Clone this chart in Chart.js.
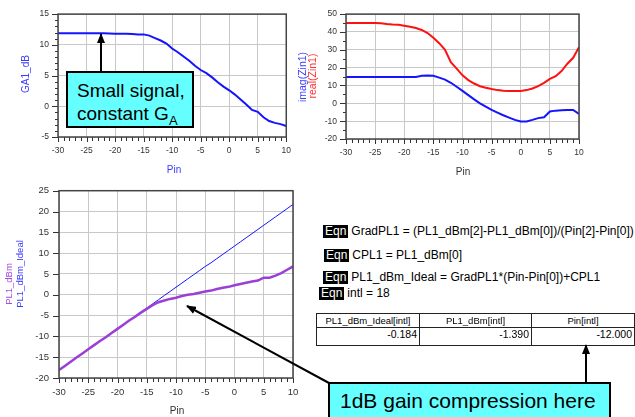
<!DOCTYPE html>
<html>
<head>
<meta charset="utf-8">
<script src="https://cdn.jsdelivr.net/npm/chart.js@4.4.1/dist/chart.umd.min.js"></script>
<style>
html, body { margin: 0; padding: 0; background: #fff; }
body { width: 635px; height: 417px; position: relative; overflow: hidden; font-family: "Liberation Sans", Arial, sans-serif; }
canvas { position: absolute; }
.t { position: absolute; white-space: nowrap; line-height: 1; }
.rot { transform: translate(-50%, -50%) rotate(-90deg); }
.ctr { transform: translate(-50%, -50%); }
.eqn { position: absolute; font-size: 12px; line-height: 13px; white-space: nowrap; color: #000; }
.eqn b { display: inline-block; background: #000; color: #fff; font-weight: normal; padding: 0 2px; margin-right: 3px; }
.note { position: absolute; background: #66ffff; border: 2px solid #000; box-sizing: border-box; color: #000; }
table { position: absolute; border-collapse: collapse; font-size: 9.5px; table-layout: fixed; }
td { border: 1px solid #222; padding: 0 2px; overflow: hidden; white-space: nowrap; }
svg { position: absolute; left: 0; top: 0; }
</style>
</head>
<body>
<canvas id="ga" width="300" height="180" style="left:0;top:0"></canvas>
<canvas id="zin" width="335" height="180" style="left:300px;top:0"></canvas>
<canvas id="pl" width="310" height="242" style="left:0;top:175px"></canvas>

<div class="t rot" style="left:26px;top:74px;font-size:10px;color:#3b3bff">GA1_dB</div>
<div class="t ctr" style="left:174px;top:170px;font-size:10px;color:#3b3bff">Pin</div>
<div class="t rot" style="left:302px;top:77px;font-size:10.5px;color:#3b3bff">imag(Zin1)</div>
<div class="t rot" style="left:312px;top:76px;font-size:10.5px;color:#ff3030">real(Zin1)</div>
<div class="t ctr" style="left:463px;top:172px;font-size:10px;color:#333">Pin</div>
<div class="t rot" style="left:9px;top:284px;font-size:9.5px;color:#a64de0">PL1_dBm</div>
<div class="t rot" style="left:20px;top:274px;font-size:9.5px;color:#3b3bff">PL1_dBm_Ideal</div>
<div class="t ctr" style="left:177px;top:411px;font-size:10px;color:#333">Pin</div>

<div class="eqn" style="left:323px;top:225px"><b>Eqn</b>GradPL1 = (PL1_dBm[2]-PL1_dBm[0])/(Pin[2]-Pin[0])</div>
<div class="eqn" style="left:324px;top:249px"><b>Eqn</b>CPL1 = PL1_dBm[0]</div>
<div class="eqn" style="left:323px;top:271px"><b>Eqn</b>PL1_dBm_Ideal = GradPL1*(Pin-Pin[0])+CPL1</div>
<div class="eqn" style="left:319px;top:287px"><b>Eqn</b>intl = 18</div>

<table style="left:316px;top:313px;width:318px">
  <colgroup><col style="width:103px"><col style="width:112px"><col style="width:103px"></colgroup>
  <tr style="height:14px"><td style="text-align:center">PL1_dBm_Ideal[intl]</td><td style="text-align:center">PL1_dBm[intl]</td><td style="text-align:center">Pin[intl]</td></tr>
  <tr style="height:18px"><td style="text-align:right;vertical-align:top;font-size:10.5px">-0.184</td><td style="text-align:right;vertical-align:top;font-size:10.5px">-1.390</td><td style="text-align:right;vertical-align:top;font-size:10.5px">-12.000</td></tr>
</table>

<div class="note" style="left:66px;top:71px;width:128px;height:57px;font-size:19px;line-height:23px;padding:6px 0 0 9px">Small signal,<br>constant G<sub style="font-size:13px;line-height:0">A</sub></div>
<div class="note" style="left:328px;top:382px;width:283px;height:50px;font-size:21px;line-height:24px;padding:5px 0 0 10px">1dB gain compression here</div>

<svg width="635" height="417" viewBox="0 0 635 417">
  <defs>
    <marker id="ah" markerWidth="10" markerHeight="8" refX="9" refY="4" orient="auto" markerUnits="userSpaceOnUse">
      <path d="M0,0 L10,4 L0,8 Z" fill="#000"/>
    </marker>
  </defs>
  <line x1="101" y1="71" x2="101" y2="34" stroke="#000" stroke-width="2" marker-end="url(#ah)"/>
  <line x1="329" y1="383" x2="187" y2="306" stroke="#000" stroke-width="2" marker-end="url(#ah)"/>
  <line x1="586" y1="382" x2="586" y2="345" stroke="#000" stroke-width="2" marker-end="url(#ah)"/>
</svg>

<script>
// swept input power (dBm)
const pin = [-30, -29, -28, -27, -26, -25, -24, -23, -22, -21, -20, -19, -18, -17, -16, -15, -14, -13, -12, -11,
  -10, -9, -8, -7, -6, -5, -4, -3, -2, -1, 0, 1, 2, 3, 4, 5, 6, 7, 8, 9, 10];

const ga1Db = [11.9, 11.9, 11.9, 11.9, 11.9, 11.9, 11.9, 11.9, 11.9, 11.85, 11.8, 11.8, 11.8, 11.75, 11.7, 11.7,
  11.5, 11.1, 10.7, 10.2, 9.4, 8.8, 8.1, 7.4, 6.6, 5.9, 5.4, 4.7, 3.9, 3.2, 2.6, 1.9, 1.1, 0.3, -0.6, -0.9,
  -1.8, -2.4, -2.7, -2.9, -3.2];

const imagZin1 = [14.8, 14.8, 14.8, 14.8, 14.8, 14.8, 14.8, 14.8, 14.8, 14.8, 14.8, 14.8, 14.8, 15.4, 15.6, 15.4,
  14.4, 13.3, 11.5, 9.3, 7.0, 4.6, 2.2, 0.0, -1.9, -3.7, -5.2, -6.7, -8.0, -9.3, -10.2, -10.2, -9.3, -8.3, -7.8,
  -4.6, -4.1, -3.9, -3.7, -3.7, -5.9];

const realZin1 = [45.0, 45.0, 45.0, 45.0, 45.0, 45.0, 44.9, 44.5, 44.2, 44.0, 43.5, 42.9, 42.2, 41.1, 39.4, 36.7,
  33.7, 30.0, 23.1, 19.4, 15.7, 13.0, 11.1, 9.6, 8.7, 8.0, 7.4, 7.0, 6.9, 6.9, 6.9, 7.4, 8.3, 9.6, 11.5, 13.7,
  15.2, 18.1, 22.2, 25.5, 31.5];

const pl1Dbm = [-18.1, -17.1, -16.1, -15.1, -14.1, -13.1, -12.1, -11.1, -10.2, -9.2, -8.2, -7.2, -6.2, -5.3, -4.3,
  -3.4, -2.5, -1.8, -1.39, -1.0, -0.7, -0.3, 0.0, 0.2, 0.5, 0.8, 1.0, 1.4, 1.7, 1.9, 2.3, 2.6, 2.9, 3.2, 3.4,
  4.1, 4.1, 4.6, 5.2, 6.0, 6.8];

const pl1DbmIdeal = [-18.1, -17.1, -16.1, -15.1, -14.1, -13.1, -12.1, -11.1, -10.1, -9.1, -8.2, -7.2, -6.2, -5.2,
  -4.2, -3.2, -2.2, -1.2, -0.184, 0.8, 1.8, 2.8, 3.8, 4.8, 5.8, 6.8, 7.7, 8.7, 9.7, 10.7, 11.7, 12.7, 13.7, 14.7,
  15.7, 16.7, 17.7, 18.7, 19.7, 20.7, 21.7];

// tick labels
const pinTicks = [-30, -25, -20, -15, -10, -5, 0, 5, 10];
const gaTicks = [-5, 0, 5, 10, 15];
const zinTicks = [-20, -10, 0, 10, 20, 30, 40, 50];
const plTicks = [-20, -15, -10, -5, 0, 5, 10, 15, 20, 25];

const FONT = '"Liberation Sans", Arial, sans-serif';
const BLUE = '#1414ff';

const pts = ys => pin.map((x, i) => ({ x, y: ys[i] }));
const near = (v, step) => Math.abs(v / step - Math.round(v / step)) < 1e-6;

// ADS style frame plus major / minor tick marks outside the plot box
const adsFrame = {
  id: 'adsFrame',
  afterDraw(chart, args, opts) {
    const { ctx, chartArea: a, scales: { x, y } } = chart;
    ctx.save();
    ctx.strokeStyle = '#333';
    ctx.lineWidth = 1;
    ctx.beginPath();
    for (let v = x.min; v <= x.max + 1e-9; v += opts.xMinor) {
      const px = Math.round(x.getPixelForValue(v)) + 0.5;
      ctx.moveTo(px, a.bottom);
      ctx.lineTo(px, a.bottom + (near(v, opts.xMajor) ? 5 : 4));
    }
    for (let v = y.min; v <= y.max + 1e-9; v += opts.yMinor) {
      const py = Math.round(y.getPixelForValue(v)) + 0.5;
      ctx.moveTo(a.left, py);
      ctx.lineTo(a.left - (near(v, opts.yMajor) ? 6 : 3), py);
    }
    ctx.stroke();
    ctx.strokeStyle = '#444';
    ctx.lineWidth = 1.5;
    ctx.strokeRect(a.left, a.top, a.right - a.left, a.bottom - a.top);
    ctx.restore();
  }
};

function plot(id, datasets, o) {
  return new Chart(document.getElementById(id), {
    type: 'line',
    data: { datasets },
    options: {
      responsive: false,
      animation: false,
      devicePixelRatio: 1,
      layout: { padding: { left: 0, top: o.top, right: o.right, bottom: 0 } },
      elements: { point: { radius: 0 }, line: { tension: 0 } },
      plugins: {
        legend: { display: false },
        tooltip: { enabled: false },
        adsFrame: { xMinor: 1, xMajor: 5, yMinor: o.yMinor, yMajor: o.yMajor }
      },
      scales: {
        x: {
          type: 'linear', min: -30, max: 10,
          afterBuildTicks: s => { s.ticks = pinTicks.map(value => ({ value })); },
          afterFit: s => { s.height = o.xh; },
          border: { display: false },
          grid: { color: '#c8c8c8', drawTicks: false },
          ticks: { font: { size: o.fs, family: FONT }, color: '#333', padding: o.xpad, maxRotation: 0, autoSkip: false }
        },
        y: {
          type: 'linear', min: o.yTicks[0], max: o.yTicks[o.yTicks.length - 1],
          afterBuildTicks: s => { s.ticks = o.yTicks.map(value => ({ value })); },
          afterFit: s => { s.width = o.yw; },
          border: { display: false },
          grid: { color: '#c8c8c8', drawTicks: false },
          ticks: { font: { size: o.fs, family: FONT }, color: '#333', padding: o.ypad, autoSkip: false }
        }
      }
    },
    plugins: [adsFrame]
  });
}

plot('ga', [
  { data: pts(ga1Db), borderColor: BLUE, borderWidth: 2 }
], { top: 13, right: 11, xh: 43, yw: 58, fs: 8.5, xpad: 9, ypad: 9, yTicks: gaTicks, yMinor: 1, yMajor: 5 });

plot('zin', [
  { data: pts(realZin1), borderColor: '#ff1010', borderWidth: 2 },
  { data: pts(imagZin1), borderColor: BLUE, borderWidth: 2 }
], { top: 13, right: 56, xh: 41, yw: 46, fs: 8.5, xpad: 9, ypad: 9, yTicks: zinTicks, yMinor: 5, yMajor: 10 });

plot('pl', [
  { data: pts(pl1Dbm), borderColor: '#9b3fd8', borderWidth: 2.5 },
  { data: pts(pl1DbmIdeal), borderColor: BLUE, borderWidth: 1 }
], { top: 13, right: 17, xh: 39, yw: 59, fs: 9.5, xpad: 9, ypad: 10, yTicks: plTicks, yMinor: 5, yMajor: 5 });
</script>
</body>
</html>
